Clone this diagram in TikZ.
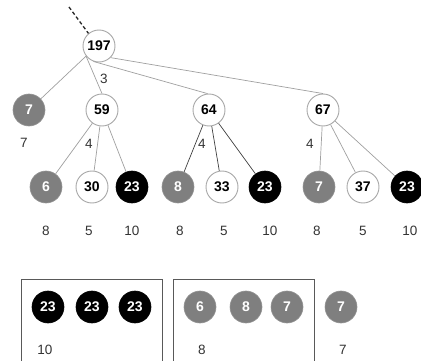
\documentclass[tikz,border=0pt]{standalone}
\usepackage{fontspec}
\setmainfont{Liberation Sans}
\definecolor{gfill}{HTML}{7F7F7F}
\definecolor{bord}{HTML}{A8A8A8}
\definecolor{edge}{HTML}{A0A0A0}
\definecolor{dedge}{HTML}{404040}
\definecolor{lbl}{HTML}{333333}
\begin{document}
\begin{tikzpicture}[x=1pt,y=-1pt,
  every node/.style={inner sep=0pt},
  wn/.style={circle,draw=bord,fill=white,line width=0.9pt,minimum size=32pt,font=\fontsize{14}{14}\selectfont\bfseries,text=black},
  gn/.style={circle,draw=gfill!85,fill=gfill,line width=0.6pt,minimum size=32pt,font=\fontsize{14}{14}\selectfont\bfseries,text=white},
  bn/.style={circle,draw=black,fill=black,line width=0.6pt,minimum size=32pt,font=\fontsize{14}{14}\selectfont\bfseries,text=white},
  lb/.style={font=\fontsize{13.5}{13.5}\selectfont,text=lbl},
  ed/.style={draw=edge,line width=0.7pt},
  de/.style={draw=dedge,line width=0.7pt},
  bx/.style={draw=black!65,line width=0.8pt}]
\clip (0,0) rectangle (421,361);
\fill[white] (0,0) rectangle (421,361);
% tree nodes
\node[wn] (r) at (99,46) {197};
\node[gn] (a) at (29,110) {7};
\node[wn] (b) at (102,110) {59};
\node[wn] (c) at (209,110) {64};
\node[wn] (d) at (323,110) {67};
\node[gn] (b1) at (46,187) {6};
\node[wn] (b2) at (92,187) {30};
\node[bn] (b3) at (132,187) {23};
\node[gn] (c1) at (178,187) {8};
\node[wn] (c2) at (222,187) {33};
\node[bn] (c3) at (265,187) {23};
\node[gn] (d1) at (319,187) {7};
\node[wn] (d2) at (363,187) {37};
\node[bn] (d3) at (407,187) {23};
\coordinate (top) at (69,7);
% edges
\draw[dash pattern=on 3.5pt off 2.5pt,line width=1.3pt,black!85] (top) -- (r.130);
\draw[ed] (r.218) -- (a);
\draw[ed] (r.218) -- (b.north);
\draw[ed] (r.250) -- (c.95);
\draw[ed] (r.315) -- (d.north);
\draw[ed] (b) -- (b1);
\draw[ed] (b) -- (b2);
\draw[ed] (b) -- (b3);
\draw[de] (c) -- (c1);
\draw[de] (c) -- (c2);
\draw[de] (c) -- (c3);
\draw[ed] (d) -- (d1);
\draw[ed] (d) -- (d2);
\draw[ed] (d) -- (d3);
% labels
\node[lb] (l3) at (104,79) {3};
\node[lb] (l7) at (24,143) {7};
\node[lb] (l4a) at (89,144) {4};
\node[lb] (l4b) at (202,144) {4};
\node[lb] (l4c) at (310,144) {4};
\node[lb] (m1) at (46,231) {8};
\node[lb] (m2) at (89,231) {5};
\node[lb] (m3) at (132,231) {10};
\node[lb] (m4) at (180,231) {8};
\node[lb] (m5) at (224,231) {5};
\node[lb] (m6) at (270,231) {10};
\node[lb] (m7) at (317,231) {8};
\node[lb] (m8) at (363,231) {5};
\node[lb] (m9) at (410,231) {10};
% bottom groups
\draw[bx] (21,370) -- (21,279) -- (162,279) -- (162,370);
\draw[bx] (173,370) -- (173,279) -- (314,279) -- (314,370);
\node[bn] (e1) at (48,307) {23};
\node[bn] (e2) at (92,307) {23};
\node[bn] (e3) at (135,307) {23};
\node[gn] (f1) at (200,307) {6};
\node[gn] (f2) at (246,307) {8};
\node[gn] (f3) at (287,307) {7};
\node[gn] (g1) at (341,307) {7};
\node[lb] (n1) at (45,350) {10};
\node[lb] (n2) at (202,350) {8};
\node[lb] (n3) at (343,350) {7};
\end{tikzpicture}
\end{document}
